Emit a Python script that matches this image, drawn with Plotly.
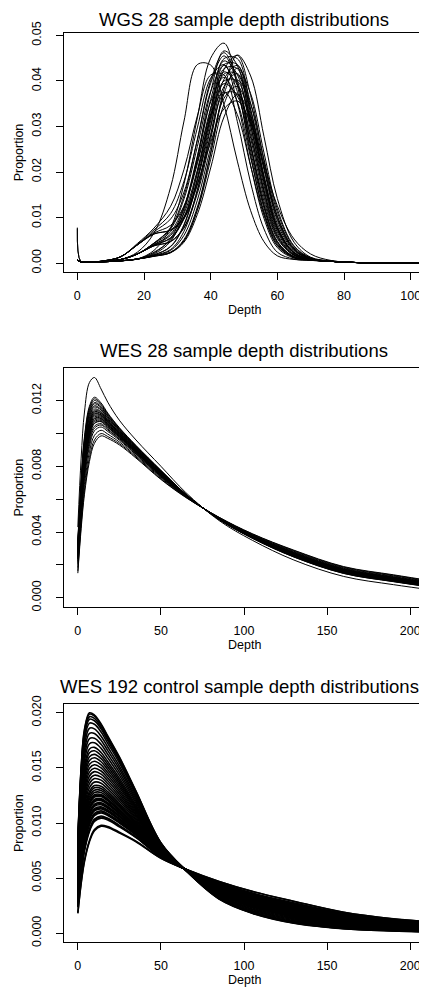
import plotly.graph_objects as go

# Depth distributions (one list per sample)

WGS_DEPTH = [0, 1, 3, 8, 13, 18, 23, 28, 32, 36, 40, 44, 48, 52, 56, 60, 65, 70, 76, 85, 105]
WGS_PROPORTION = [
    [0.0007, 0.0003, 0.0002, 0.0004, 0.0008, 0.0024, 0.0066, 0.0167, 0.0312, 0.0436, 0.0435, 0.0348, 0.0224, 0.0115, 0.0047, 0.0016, 0.0008, 0.0006, 0.0004, 0.0001, 0.00003],
    [0.0007, 0.0003, 0.0002, 0.0003, 0.0005, 0.0009, 0.0028, 0.0078, 0.0174, 0.0319, 0.0450, 0.0483, 0.0390, 0.0237, 0.0109, 0.0038, 0.0012, 0.0007, 0.0004, 0.0001, 0.00003],
    [0.0007, 0.0003, 0.0002, 0.0003, 0.0005, 0.0009, 0.0024, 0.0051, 0.0097, 0.0174, 0.0265, 0.0339, 0.0356, 0.0307, 0.0217, 0.0126, 0.0053, 0.0020, 0.0006, 0.0001, 0.00003],
    [0.0007, 0.0003, 0.0002, 0.0003, 0.0005, 0.0009, 0.0020, 0.0048, 0.0113, 0.0233, 0.0376, 0.0466, 0.0434, 0.0304, 0.0160, 0.0063, 0.0019, 0.0008, 0.0004, 0.0001, 0.00003],
    [0.0007, 0.0003, 0.0002, 0.0004, 0.0008, 0.0020, 0.0039, 0.0056, 0.0101, 0.0201, 0.0338, 0.0449, 0.0449, 0.0338, 0.0191, 0.0081, 0.0024, 0.0009, 0.0004, 0.0001, 0.00003],
    [0.0007, 0.0003, 0.0002, 0.0003, 0.0005, 0.0009, 0.0017, 0.0030, 0.0070, 0.0161, 0.0298, 0.0425, 0.0456, 0.0368, 0.0224, 0.0103, 0.0031, 0.0010, 0.0004, 0.0001, 0.00003],
    [0.0007, 0.0003, 0.0002, 0.0003, 0.0005, 0.0009, 0.0015, 0.0023, 0.0049, 0.0118, 0.0241, 0.0382, 0.0457, 0.0411, 0.0278, 0.0142, 0.0046, 0.0013, 0.0005, 0.0001, 0.00003],
    [0.0007, 0.0003, 0.0002, 0.0005, 0.0014, 0.0040, 0.0069, 0.0097, 0.0156, 0.0270, 0.0395, 0.0455, 0.0395, 0.0258, 0.0126, 0.0047, 0.0014, 0.0007, 0.0004, 0.0001, 0.00003],
    [0.0007, 0.0003, 0.0002, 0.0004, 0.0008, 0.0020, 0.0041, 0.0064, 0.0120, 0.0228, 0.0359, 0.0444, 0.0414, 0.0290, 0.0153, 0.0060, 0.0018, 0.0008, 0.0004, 0.0001, 0.00003],
    [0.0078, 0.0004, 0.0002, 0.0003, 0.0005, 0.0009, 0.0018, 0.0037, 0.0085, 0.0186, 0.0321, 0.0427, 0.0427, 0.0321, 0.0182, 0.0077, 0.0023, 0.0009, 0.0004, 0.0001, 0.00003],
    [0.0007, 0.0003, 0.0002, 0.0004, 0.0008, 0.0020, 0.0038, 0.0048, 0.0079, 0.0159, 0.0283, 0.0404, 0.0434, 0.0351, 0.0213, 0.0098, 0.0030, 0.0010, 0.0004, 0.0001, 0.00003],
    [0.0007, 0.0003, 0.0002, 0.0004, 0.0008, 0.0020, 0.0044, 0.0075, 0.0141, 0.0256, 0.0377, 0.0434, 0.0377, 0.0246, 0.0121, 0.0045, 0.0014, 0.0007, 0.0004, 0.0001, 0.00003],
    [0.0076, 0.0004, 0.0002, 0.0003, 0.0005, 0.0009, 0.0018, 0.0036, 0.0083, 0.0181, 0.0312, 0.0415, 0.0415, 0.0312, 0.0177, 0.0075, 0.0022, 0.0009, 0.0004, 0.0001, 0.00003],
    [0.0007, 0.0003, 0.0002, 0.0003, 0.0005, 0.0009, 0.0016, 0.0024, 0.0052, 0.0123, 0.0242, 0.0372, 0.0428, 0.0372, 0.0242, 0.0119, 0.0038, 0.0012, 0.0004, 0.0001, 0.00003],
    [0.0007, 0.0003, 0.0002, 0.0005, 0.0014, 0.0040, 0.0066, 0.0083, 0.0125, 0.0218, 0.0340, 0.0420, 0.0391, 0.0274, 0.0145, 0.0057, 0.0017, 0.0008, 0.0004, 0.0001, 0.00003],
    [0.0007, 0.0003, 0.0002, 0.0004, 0.0008, 0.0020, 0.0038, 0.0047, 0.0077, 0.0153, 0.0272, 0.0388, 0.0416, 0.0336, 0.0205, 0.0094, 0.0029, 0.0010, 0.0004, 0.0001, 0.00003],
    [0.0007, 0.0003, 0.0002, 0.0005, 0.0014, 0.0040, 0.0064, 0.0073, 0.0102, 0.0182, 0.0301, 0.0400, 0.0400, 0.0301, 0.0170, 0.0072, 0.0022, 0.0008, 0.0004, 0.0001, 0.00003],
    [0.0007, 0.0003, 0.0002, 0.0003, 0.0005, 0.0009, 0.0022, 0.0054, 0.0121, 0.0235, 0.0354, 0.0408, 0.0354, 0.0231, 0.0113, 0.0042, 0.0013, 0.0007, 0.0004, 0.0001, 0.00003],
    [0.0007, 0.0003, 0.0002, 0.0003, 0.0005, 0.0009, 0.0016, 0.0024, 0.0049, 0.0116, 0.0228, 0.0349, 0.0402, 0.0349, 0.0228, 0.0112, 0.0036, 0.0011, 0.0004, 0.0001, 0.00003],
    [0.0007, 0.0003, 0.0002, 0.0004, 0.0008, 0.0020, 0.0040, 0.0061, 0.0109, 0.0204, 0.0319, 0.0394, 0.0367, 0.0258, 0.0136, 0.0054, 0.0017, 0.0008, 0.0004, 0.0001, 0.00003],
    [0.0007, 0.0003, 0.0002, 0.0003, 0.0005, 0.0009, 0.0016, 0.0028, 0.0061, 0.0138, 0.0254, 0.0362, 0.0388, 0.0314, 0.0191, 0.0087, 0.0027, 0.0010, 0.0004, 0.0001, 0.00003],
    [0.0007, 0.0003, 0.0002, 0.0005, 0.0014, 0.0040, 0.0064, 0.0072, 0.0098, 0.0171, 0.0280, 0.0372, 0.0372, 0.0280, 0.0159, 0.0068, 0.0020, 0.0008, 0.0004, 0.0001, 0.00003],
    [0.0007, 0.0003, 0.0002, 0.0004, 0.0008, 0.0020, 0.0043, 0.0069, 0.0125, 0.0223, 0.0326, 0.0376, 0.0326, 0.0213, 0.0105, 0.0039, 0.0013, 0.0007, 0.0004, 0.0001, 0.00003],
    [0.0007, 0.0003, 0.0002, 0.0003, 0.0005, 0.0009, 0.0015, 0.0023, 0.0046, 0.0107, 0.0209, 0.0321, 0.0370, 0.0321, 0.0209, 0.0103, 0.0033, 0.0011, 0.0004, 0.0001, 0.00003],
    [0.0007, 0.0003, 0.0002, 0.0005, 0.0014, 0.0041, 0.0073, 0.0109, 0.0180, 0.0297, 0.0406, 0.0436, 0.0352, 0.0214, 0.0098, 0.0034, 0.0011, 0.0007, 0.0004, 0.0001, 0.00003],
    [0.0007, 0.0003, 0.0002, 0.0005, 0.0014, 0.0043, 0.0077, 0.0125, 0.0206, 0.0323, 0.0413, 0.0413, 0.0311, 0.0176, 0.0075, 0.0024, 0.0009, 0.0006, 0.0004, 0.0001, 0.00003],
    [0.0007, 0.0003, 0.0002, 0.0004, 0.0008, 0.0020, 0.0044, 0.0078, 0.0148, 0.0271, 0.0401, 0.0462, 0.0401, 0.0261, 0.0128, 0.0048, 0.0014, 0.0007, 0.0004, 0.0001, 0.00003],
    [0.0007, 0.0003, 0.0002, 0.0004, 0.0008, 0.0020, 0.0039, 0.0055, 0.0099, 0.0196, 0.0328, 0.0436, 0.0436, 0.0328, 0.0186, 0.0079, 0.0023, 0.0009, 0.0004, 0.0001, 0.00003],
]

WES28_DEPTH = [0, 2, 4, 7, 10, 14, 18, 25, 35, 50, 65, 85, 105, 130, 160, 190, 215]
WES28_PROPORTION = [
    [0.0015, 0.0042, 0.0063, 0.0083, 0.0094, 0.00985, 0.0097, 0.0093, 0.0085, 0.0072, 0.0061, 0.0049, 0.0039, 0.0029, 0.0019, 0.0014, 0.001],
    [0.00164, 0.00442, 0.00655, 0.00854, 0.0096, 0.00999, 0.00981, 0.00938, 0.00856, 0.00724, 0.00612, 0.00489, 0.00388, 0.00287, 0.00187, 0.00137, 0.00097],
    [0.00184, 0.00472, 0.0069, 0.00888, 0.00988, 0.01019, 0.00996, 0.00948, 0.00863, 0.0073, 0.00614, 0.00488, 0.00385, 0.00283, 0.00183, 0.00133, 0.00093],
    [0.00203, 0.00502, 0.00725, 0.00921, 0.01016, 0.01039, 0.01012, 0.00959, 0.00871, 0.00735, 0.00616, 0.00486, 0.00382, 0.00279, 0.00179, 0.00129, 0.0009],
    [0.00214, 0.00519, 0.00745, 0.0094, 0.01032, 0.01051, 0.01021, 0.00965, 0.00875, 0.00738, 0.00617, 0.00485, 0.00381, 0.00276, 0.00176, 0.00126, 0.00087],
    [0.00223, 0.00532, 0.0076, 0.00955, 0.01044, 0.01059, 0.01027, 0.00969, 0.00879, 0.00741, 0.00618, 0.00485, 0.0038, 0.00274, 0.00174, 0.00124, 0.00086],
    [0.00234, 0.00549, 0.0078, 0.00974, 0.0106, 0.01071, 0.01036, 0.00975, 0.00883, 0.00744, 0.00619, 0.00484, 0.00378, 0.00272, 0.00172, 0.00122, 0.00083],
    [0.00237, 0.00553, 0.00785, 0.00979, 0.01064, 0.01073, 0.01038, 0.00977, 0.00884, 0.00745, 0.00619, 0.00484, 0.00378, 0.00271, 0.00171, 0.00121, 0.00083],
    [0.00242, 0.00562, 0.00795, 0.00988, 0.01072, 0.01079, 0.01043, 0.0098, 0.00886, 0.00746, 0.0062, 0.00483, 0.00377, 0.0027, 0.0017, 0.0012, 0.00082],
    [0.00248, 0.00571, 0.00805, 0.00998, 0.0108, 0.01085, 0.01047, 0.00983, 0.00889, 0.00748, 0.00621, 0.00483, 0.00376, 0.00269, 0.00169, 0.00119, 0.00081],
    [0.00254, 0.00579, 0.00815, 0.01008, 0.01088, 0.0109, 0.01051, 0.00986, 0.00891, 0.0075, 0.00621, 0.00483, 0.00375, 0.00268, 0.00168, 0.00118, 0.0008],
    [0.00256, 0.00583, 0.0082, 0.01012, 0.01092, 0.01093, 0.01054, 0.00987, 0.00892, 0.0075, 0.00621, 0.00482, 0.00375, 0.00267, 0.00167, 0.00117, 0.00079],
    [0.00262, 0.00592, 0.0083, 0.01022, 0.011, 0.01099, 0.01058, 0.0099, 0.00894, 0.00752, 0.00622, 0.00482, 0.00374, 0.00266, 0.00166, 0.00116, 0.00078],
    [0.00268, 0.00601, 0.0084, 0.01032, 0.01108, 0.01105, 0.01062, 0.00993, 0.00896, 0.00754, 0.00623, 0.00482, 0.00373, 0.00265, 0.00165, 0.00115, 0.00077],
    [0.00273, 0.00609, 0.0085, 0.01041, 0.01116, 0.0111, 0.01067, 0.00996, 0.00898, 0.00755, 0.00623, 0.00481, 0.00372, 0.00264, 0.00164, 0.00114, 0.00076],
    [0.00276, 0.00614, 0.00855, 0.01046, 0.0112, 0.01113, 0.01069, 0.00998, 0.009, 0.00756, 0.00624, 0.00481, 0.00372, 0.00263, 0.00163, 0.00113, 0.00075],
    [0.00282, 0.00622, 0.00865, 0.01056, 0.01128, 0.01119, 0.01073, 0.01001, 0.00902, 0.00758, 0.00624, 0.00481, 0.00371, 0.00262, 0.00162, 0.00112, 0.00074],
    [0.00284, 0.00626, 0.0087, 0.0106, 0.01132, 0.01122, 0.01076, 0.01002, 0.00903, 0.00758, 0.00624, 0.0048, 0.00371, 0.00261, 0.00161, 0.00111, 0.00074],
    [0.0029, 0.00635, 0.0088, 0.0107, 0.0114, 0.01128, 0.0108, 0.01005, 0.00905, 0.0076, 0.00625, 0.0048, 0.0037, 0.0026, 0.0016, 0.0011, 0.00072],
    [0.00296, 0.00644, 0.0089, 0.0108, 0.01148, 0.01133, 0.01084, 0.01008, 0.00907, 0.00762, 0.00626, 0.0048, 0.00369, 0.00259, 0.00159, 0.00109, 0.00071],
    [0.00304, 0.00657, 0.00905, 0.01094, 0.0116, 0.01142, 0.01091, 0.01013, 0.00911, 0.00764, 0.00627, 0.00479, 0.00368, 0.00257, 0.00157, 0.00107, 0.0007],
    [0.0031, 0.00665, 0.00915, 0.01104, 0.01168, 0.01147, 0.01095, 0.01016, 0.00913, 0.00766, 0.00627, 0.00479, 0.00367, 0.00256, 0.00156, 0.00106, 0.00069],
    [0.00318, 0.00678, 0.0093, 0.01118, 0.0118, 0.01156, 0.01102, 0.0102, 0.00916, 0.00768, 0.00628, 0.00478, 0.00366, 0.00254, 0.00154, 0.00104, 0.00067],
    [0.00324, 0.00687, 0.0094, 0.01128, 0.01188, 0.01162, 0.01106, 0.01023, 0.00918, 0.0077, 0.00629, 0.00478, 0.00365, 0.00253, 0.00153, 0.00103, 0.00066],
    [0.00332, 0.007, 0.00955, 0.01142, 0.012, 0.0117, 0.01113, 0.01028, 0.00922, 0.00772, 0.0063, 0.00477, 0.00364, 0.00251, 0.00151, 0.00101, 0.00064],
    [0.00339, 0.0071, 0.00968, 0.01154, 0.0121, 0.01177, 0.01119, 0.01031, 0.00924, 0.00774, 0.0063, 0.00476, 0.00363, 0.00249, 0.00149, 0.00099, 0.00063],
    [0.00346, 0.00721, 0.0098, 0.01166, 0.0122, 0.01185, 0.01124, 0.01035, 0.00927, 0.00776, 0.00631, 0.00476, 0.00362, 0.00248, 0.00148, 0.00098, 0.00061],
    [0.0043, 0.0085, 0.0113, 0.0131, 0.0134, 0.0127, 0.0119, 0.0108, 0.0096, 0.008, 0.0064, 0.0047, 0.0035, 0.0023, 0.0013, 0.0008, 0.00045],
]

WES192_DEPTH = [0, 2, 4, 7, 10, 14, 18, 25, 35, 50, 65, 85, 105, 130, 160, 190, 215]
WES192_PROPORTION = [
    [0.0018, 0.0045, 0.0065, 0.0083, 0.0093, 0.0097, 0.0096, 0.0091, 0.0083, 0.0068, 0.0058, 0.0047, 0.0038, 0.0029, 0.0019, 0.0013, 0.0010],
    [0.00187, 0.00461, 0.00662, 0.00842, 0.00941, 0.00979, 0.00968, 0.00917, 0.00835, 0.00681, 0.0058, 0.00468, 0.00378, 0.00288, 0.00189, 0.00129, 0.00099],
    [0.00234, 0.00534, 0.00746, 0.00924, 0.01014, 0.01044, 0.01026, 0.00965, 0.00867, 0.00691, 0.00579, 0.00457, 0.00364, 0.00274, 0.00178, 0.00121, 0.00093],
    [0.0024, 0.00545, 0.00758, 0.00935, 0.01025, 0.01054, 0.01035, 0.00972, 0.00871, 0.00693, 0.00579, 0.00456, 0.00362, 0.00272, 0.00176, 0.0012, 0.00092],
    [0.00247, 0.00555, 0.0077, 0.00947, 0.01035, 0.01063, 0.01043, 0.00979, 0.00876, 0.00694, 0.00579, 0.00454, 0.0036, 0.0027, 0.00175, 0.00119, 0.00091],
    [0.00267, 0.00587, 0.00806, 0.00982, 0.01067, 0.01091, 0.01068, 0.01, 0.0089, 0.00698, 0.00579, 0.00449, 0.00354, 0.00264, 0.0017, 0.00116, 0.00088],
    [0.00274, 0.00597, 0.00818, 0.00994, 0.01077, 0.011, 0.01076, 0.01007, 0.00894, 0.007, 0.00579, 0.00448, 0.00352, 0.00262, 0.00169, 0.00115, 0.00087],
    [0.00281, 0.00608, 0.0083, 0.01006, 0.01088, 0.0111, 0.01085, 0.01014, 0.00899, 0.00701, 0.00578, 0.00446, 0.0035, 0.0026, 0.00167, 0.00113, 0.00086],
    [0.00294, 0.00629, 0.00854, 0.01029, 0.01109, 0.01128, 0.01101, 0.01027, 0.00908, 0.00704, 0.00578, 0.00443, 0.00346, 0.00256, 0.00164, 0.00111, 0.00085],
    [0.00301, 0.00639, 0.00866, 0.01041, 0.01119, 0.01137, 0.01109, 0.01034, 0.00913, 0.00705, 0.00578, 0.00441, 0.00344, 0.00254, 0.00163, 0.0011, 0.00084],
    [0.00307, 0.0065, 0.00878, 0.01052, 0.0113, 0.01147, 0.01118, 0.01041, 0.00917, 0.00707, 0.00578, 0.0044, 0.00342, 0.00252, 0.00161, 0.00109, 0.00083],
    [0.00321, 0.00671, 0.00902, 0.01076, 0.01151, 0.01165, 0.01134, 0.01055, 0.00927, 0.00709, 0.00578, 0.00436, 0.00338, 0.00248, 0.00158, 0.00107, 0.00081],
    [0.00327, 0.00681, 0.00914, 0.01087, 0.01161, 0.01175, 0.01143, 0.01062, 0.00931, 0.00711, 0.00578, 0.00435, 0.00336, 0.00246, 0.00157, 0.00106, 0.0008],
    [0.00334, 0.00692, 0.00926, 0.01099, 0.01172, 0.01184, 0.01151, 0.01069, 0.00936, 0.00712, 0.00578, 0.00433, 0.00334, 0.00244, 0.00155, 0.00105, 0.00079],
    [0.00348, 0.00713, 0.0095, 0.01123, 0.01193, 0.01203, 0.01168, 0.01083, 0.00945, 0.00715, 0.00577, 0.0043, 0.0033, 0.0024, 0.00152, 0.00102, 0.00077],
    [0.00354, 0.00723, 0.00962, 0.01134, 0.01203, 0.01212, 0.01176, 0.01089, 0.0095, 0.00716, 0.00577, 0.00428, 0.00328, 0.00238, 0.00151, 0.00101, 0.00077],
    [0.00361, 0.00734, 0.00974, 0.01146, 0.01214, 0.01221, 0.01184, 0.01096, 0.00954, 0.00718, 0.00577, 0.00427, 0.00326, 0.00236, 0.00149, 0.001, 0.00076],
    [0.00374, 0.00755, 0.00998, 0.01169, 0.01235, 0.0124, 0.01201, 0.0111, 0.00963, 0.00721, 0.00577, 0.00424, 0.00322, 0.00232, 0.00146, 0.00098, 0.00074],
    [0.00381, 0.00765, 0.0101, 0.01181, 0.01245, 0.01249, 0.01209, 0.01117, 0.00968, 0.00722, 0.00577, 0.00422, 0.0032, 0.0023, 0.00145, 0.00097, 0.00073],
    [0.00388, 0.00776, 0.01022, 0.01193, 0.01256, 0.01258, 0.01217, 0.01124, 0.00973, 0.00723, 0.00577, 0.0042, 0.00318, 0.00228, 0.00143, 0.00096, 0.00072],
    [0.00401, 0.00797, 0.01046, 0.01216, 0.01277, 0.01277, 0.01234, 0.01138, 0.00982, 0.00726, 0.00577, 0.00417, 0.00314, 0.00224, 0.0014, 0.00094, 0.0007],
    [0.00415, 0.00818, 0.0107, 0.0124, 0.01298, 0.01296, 0.01251, 0.01152, 0.00991, 0.00729, 0.00576, 0.00414, 0.0031, 0.0022, 0.00137, 0.00091, 0.00068],
    [0.00428, 0.00839, 0.01094, 0.01263, 0.01319, 0.01314, 0.01267, 0.01165, 0.01, 0.00732, 0.00576, 0.00411, 0.00306, 0.00216, 0.00134, 0.00089, 0.00067],
    [0.00441, 0.0086, 0.01118, 0.01286, 0.0134, 0.01333, 0.01284, 0.01179, 0.01009, 0.00735, 0.00576, 0.00408, 0.00302, 0.00212, 0.00131, 0.00087, 0.00065],
    [0.00461, 0.00891, 0.01154, 0.01321, 0.01371, 0.01361, 0.01309, 0.012, 0.01023, 0.00739, 0.00576, 0.00403, 0.00296, 0.00206, 0.00127, 0.00084, 0.00062],
    [0.00482, 0.00923, 0.0119, 0.01357, 0.01403, 0.01389, 0.01334, 0.01221, 0.01037, 0.00743, 0.00575, 0.00398, 0.0029, 0.002, 0.00122, 0.0008, 0.00059],
    [0.00502, 0.00954, 0.01226, 0.01392, 0.01434, 0.01416, 0.01358, 0.01241, 0.01051, 0.00747, 0.00575, 0.00393, 0.00284, 0.00194, 0.00118, 0.00077, 0.00057],
    [0.00522, 0.00986, 0.01262, 0.01427, 0.01466, 0.01444, 0.01383, 0.01262, 0.01065, 0.00751, 0.00575, 0.00388, 0.00278, 0.00188, 0.00113, 0.00074, 0.00054],
    [0.00542, 0.01017, 0.01298, 0.01462, 0.01497, 0.01472, 0.01408, 0.01283, 0.01078, 0.00756, 0.00575, 0.00384, 0.00272, 0.00182, 0.00109, 0.00071, 0.00051],
    [0.00562, 0.01049, 0.01334, 0.01497, 0.01529, 0.015, 0.01433, 0.01303, 0.01092, 0.0076, 0.00574, 0.00379, 0.00266, 0.00176, 0.00104, 0.00067, 0.00049],
    [0.00582, 0.0108, 0.0137, 0.01532, 0.0156, 0.01528, 0.01458, 0.01324, 0.01106, 0.00764, 0.00574, 0.00374, 0.0026, 0.0017, 0.001, 0.00064, 0.00046],
    [0.00602, 0.01112, 0.01406, 0.01567, 0.01592, 0.01556, 0.01483, 0.01345, 0.0112, 0.00768, 0.00574, 0.00369, 0.00254, 0.00164, 0.00095, 0.00061, 0.00043],
    [0.00622, 0.01143, 0.01442, 0.01602, 0.01623, 0.01584, 0.01508, 0.01365, 0.01134, 0.00772, 0.00573, 0.00364, 0.00248, 0.00158, 0.00091, 0.00057, 0.00041],
    [0.00642, 0.01175, 0.01478, 0.01637, 0.01655, 0.01612, 0.01533, 0.01386, 0.01147, 0.00777, 0.00573, 0.0036, 0.00242, 0.00152, 0.00086, 0.00054, 0.00038],
    [0.00662, 0.01206, 0.01514, 0.01672, 0.01686, 0.0164, 0.01558, 0.01407, 0.01161, 0.00781, 0.00573, 0.00355, 0.00236, 0.00146, 0.00082, 0.00051, 0.00035],
    [0.00689, 0.01248, 0.01562, 0.01719, 0.01728, 0.01677, 0.01591, 0.01434, 0.0118, 0.00786, 0.00572, 0.00348, 0.00228, 0.00138, 0.00076, 0.00046, 0.00032],
    [0.00716, 0.0129, 0.0161, 0.01766, 0.0177, 0.01714, 0.01624, 0.01462, 0.01198, 0.00792, 0.00572, 0.00342, 0.0022, 0.0013, 0.0007, 0.00042, 0.00028],
    [0.00743, 0.01332, 0.01658, 0.01813, 0.01812, 0.01751, 0.01657, 0.0149, 0.01216, 0.00798, 0.00572, 0.00336, 0.00212, 0.00122, 0.00064, 0.00038, 0.00024],
    [0.0077, 0.01374, 0.01706, 0.0186, 0.01854, 0.01788, 0.0169, 0.01517, 0.01235, 0.00803, 0.00571, 0.00329, 0.00204, 0.00114, 0.00058, 0.00033, 0.00021],
    [0.00796, 0.01416, 0.01754, 0.01906, 0.01896, 0.01826, 0.01724, 0.01545, 0.01253, 0.00809, 0.00571, 0.00323, 0.00196, 0.00106, 0.00052, 0.00029, 0.00017],
    [0.00817, 0.01448, 0.0179, 0.01942, 0.01928, 0.01854, 0.01749, 0.01566, 0.01267, 0.00813, 0.0057, 0.00318, 0.0019, 0.001, 0.00047, 0.00025, 0.00014],
    [0.0083, 0.01469, 0.01814, 0.01965, 0.01949, 0.01872, 0.01765, 0.01579, 0.01276, 0.00816, 0.0057, 0.00315, 0.00186, 0.00096, 0.00044, 0.00023, 0.00013],
    [0.00843, 0.0149, 0.01838, 0.01988, 0.0197, 0.01891, 0.01782, 0.01593, 0.01285, 0.00819, 0.0057, 0.00312, 0.00182, 0.00092, 0.00041, 0.00021, 0.00011],
    [0.0085, 0.015, 0.0185, 0.02, 0.0198, 0.019, 0.0179, 0.016, 0.0129, 0.0082, 0.0057, 0.0031, 0.0018, 0.0009, 0.0004, 0.0002, 0.0001],
]

TITLES = [
    "WGS 28 sample depth distributions",
    "WES 28 sample depth distributions",
    "WES 192 control sample depth distributions",
]

# the page body keeps its default 8px margin, so the figure sits 8px in
OFF = 8
W, H = 427 - OFF, 989 - OFF
FONT = "Liberation Sans, Arial, Helvetica, sans-serif"

# plot boxes in page pixels
X0, X1 = 64 - OFF, 424 - OFF
BOXES = [(32.7 - OFF, 272 - OFF), (368.3 - OFF, 606.7 - OFF), (704 - OFF, 942 - OFF)]
TITLE_X = [244 - OFF, 244 - OFF, 240 - OFF]
TITLE_GAP = [13.5, 18, 18]
YLAB_X = 19 - OFF
LINE_W = [1, 1, 1.6]

fig = go.Figure()

panels = [
    (WGS_DEPTH, WGS_PROPORTION),
    (WES28_DEPTH, WES28_PROPORTION),
    (WES192_DEPTH, WES192_PROPORTION),
]
for i, (depth, curves) in enumerate(panels):
    sfx = "" if i == 0 else str(i + 1)
    for curve in curves:
        fig.add_trace(go.Scatter(
            x=depth, y=curve, mode="lines",
            line=dict(color="black", width=LINE_W[i], shape="spline", smoothing=1.0),
            xaxis="x" + sfx, yaxis="y" + sfx,
            hoverinfo="skip", showlegend=False))

axis_common = dict(
    showgrid=False, zeroline=False, showline=True, mirror=True,
    linecolor="black", linewidth=1, ticks="outside", ticklen=7,
    tickcolor="black", tickwidth=1, automargin=False,
    tickfont=dict(family=FONT, size=12.5, color="black"),
)

x_ranges = [[-4, 104], [-8.32, 208.32], [-8.32, 208.32]]
x_ticks = [[0, 20, 40, 60, 80, 100], [0, 50, 100, 150, 200], [0, 50, 100, 150, 200]]
y_ranges = [[-0.00195, 0.0506], [-0.00054, 0.01396], [-0.0008, 0.0208]]
y_tickvals = [
    [0, 0.01, 0.02, 0.03, 0.04, 0.05],
    [0, 0.002, 0.004, 0.006, 0.008, 0.010, 0.012],
    [0, 0.005, 0.010, 0.015, 0.020],
]
y_ticktext = [
    ["0.00", "0.01", "0.02", "0.03", "0.04", "0.05"],
    ["0.000", "", "0.004", "", "0.008", "", "0.012"],
    ["0.000", "0.005", "0.010", "0.015", "0.020"],
]

layout = dict(
    width=W, height=H, autosize=False,
    margin=dict(l=0, r=0, t=0, b=0, pad=0),
    paper_bgcolor="white", plot_bgcolor="white",
    font=dict(family=FONT, color="black"),
    annotations=[],
)

for i, (top, bottom) in enumerate(BOXES):
    sfx = "" if i == 0 else str(i + 1)
    layout["xaxis" + sfx] = dict(
        axis_common, domain=[X0 / W, X1 / W], range=x_ranges[i],
        tickvals=x_ticks[i], ticktext=[str(t) for t in x_ticks[i]],
        anchor="y" + sfx, ticklabelstandoff=5)
    layout["yaxis" + sfx] = dict(
        axis_common, domain=[1 - bottom / H, 1 - top / H], range=y_ranges[i],
        tickvals=y_tickvals[i], ticktext=y_ticktext[i], tickangle=-90,
        anchor="x" + sfx, ticklabelstandoff=10)

    cx = (X0 + X1) / 2 / W
    layout["annotations"].append(dict(
        text=TITLES[i], x=TITLE_X[i] / W, y=1 - (top - TITLE_GAP[i]) / H,
        xref="paper", yref="paper",
        xanchor="center", yanchor="middle", showarrow=False,
        font=dict(family=FONT, size=18.5, color="black")))
    layout["annotations"].append(dict(
        text="Depth", x=cx, y=1 - (bottom + 38) / H, xref="paper", yref="paper",
        xanchor="center", yanchor="middle", showarrow=False,
        font=dict(family=FONT, size=12.5, color="black")))
    layout["annotations"].append(dict(
        text="Proportion", x=YLAB_X / W, y=1 - (top + bottom) / 2 / H, xref="paper", yref="paper",
        xanchor="center", yanchor="middle", showarrow=False, textangle=-90,
        font=dict(family=FONT, size=12.5, color="black")))

fig.update_layout(layout)
fig.write_html("out.html")
